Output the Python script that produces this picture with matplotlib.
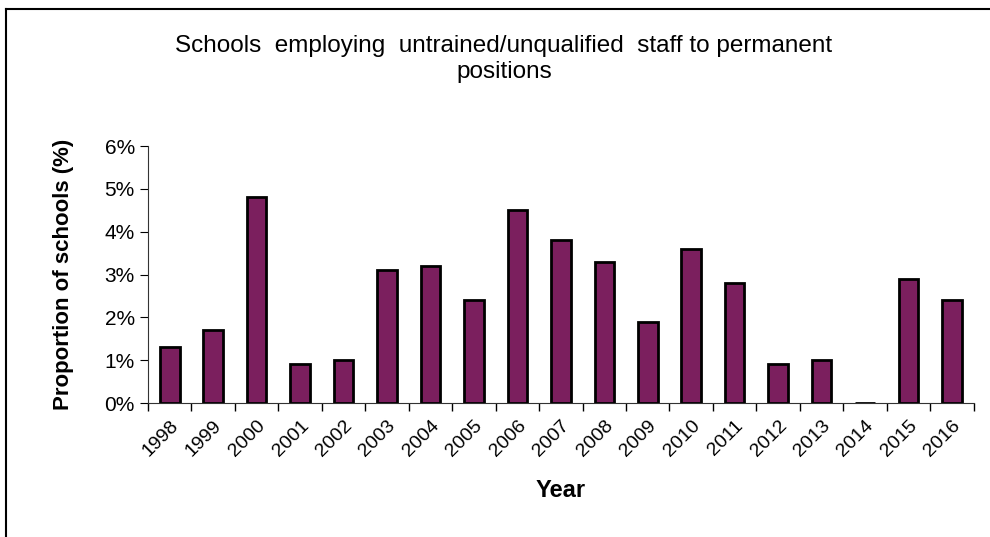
import numpy as np
import matplotlib.pyplot as plt
from matplotlib.ticker import FuncFormatter

plt.rcParams['font.family'] = ['Liberation Sans', 'DejaVu Sans']

years = ['1998', '1999', '2000', '2001', '2002', '2003', '2004', '2005', '2006', '2007',
         '2008', '2009', '2010', '2011', '2012', '2013', '2014', '2015', '2016']
proportion = [1.3, 1.7, 4.8, 0.9, 1.0, 3.1, 3.2, 2.4, 4.5, 3.8,
              3.3, 1.9, 3.6, 2.8, 0.9, 1.0, 0.0, 2.9, 2.4]

fig = plt.figure(figsize=(9.9, 5.37), dpi=100)
ax = fig.add_axes([0.1495, 0.2495, 0.834, 0.4785])

x = np.arange(len(years))
ax.bar(x, proportion, width=0.45, color='#7B1F5E', edgecolor='black', linewidth=2, zorder=1)

ax.set_xlim(-0.5, len(years) - 0.5)
ax.set_ylim(0, 6)
ax.set_yticks(np.arange(0, 7, 1))
ax.yaxis.set_major_formatter(FuncFormatter(lambda v, p: f'{v:.0f}%'))
ax.set_xticks(x)
ax.set_xticklabels(years, rotation=45, ha='right', rotation_mode='anchor', fontsize=14)
ax.set_xticks(np.arange(-0.5, len(years), 1), minor=True)
ax.tick_params(axis='x', which='major', length=0, pad=10)
ax.tick_params(axis='x', which='minor', length=6, width=1, direction='out')
ax.tick_params(axis='y', labelsize=15, length=6, direction='out')

for s in ['top', 'right']:
    ax.spines[s].set_visible(False)
ax.spines['left'].set_color('#333333')
ax.spines['bottom'].set_color('#333333')
ax.spines['bottom'].set_zorder(3)

ax.set_xlabel('Year', fontsize=17, fontweight='bold', labelpad=14)
ax.set_ylabel('Proportion of schools (%)', fontsize=16, fontweight='bold', labelpad=22)

fig.text(0.509, 0.89, 'Schools  employing  untrained/unqualified  staff to permanent\npositions',
         ha='center', va='center', fontsize=17.5, linespacing=1.25)

# border around the chart area
fig.add_artist(plt.Line2D([0.0065, 0.0065], [0, 0.984], transform=fig.transFigure, color='black', lw=1.5))
fig.add_artist(plt.Line2D([0.0065, 1.0], [0.984, 0.984], transform=fig.transFigure, color='black', lw=1.5))

fig.savefig('out.png', dpi=100)
